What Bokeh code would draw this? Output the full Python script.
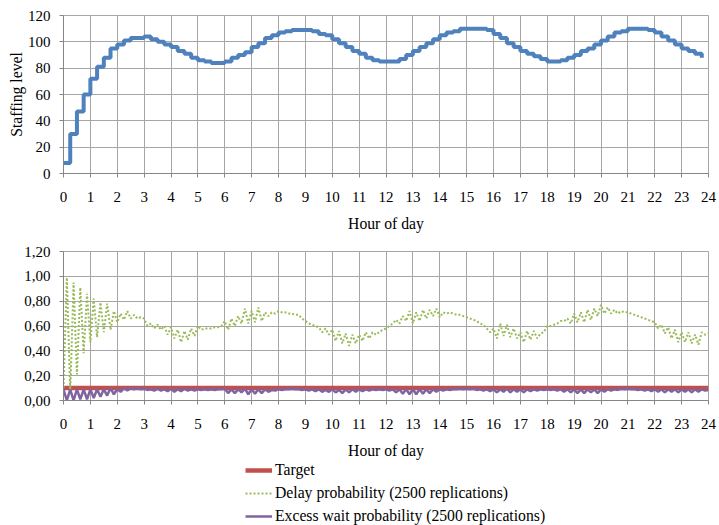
import numpy as np
from bokeh.plotting import figure
from bokeh.layouts import column
from bokeh.models import (FixedTicker, CustomJSTickFormatter, Legend, LegendItem, Range1d)
from bokeh.embed import file_html
from bokeh.resources import INLINE

# ---------------- data ----------------
hour_ticks = list(range(0, 25))
staff_ticks = [0, 20, 40, 60, 80, 100, 120]
prob_ticks = [0.0, 0.2, 0.4, 0.6, 0.8, 1.0, 1.2]

# staffing level per 15-minute interval (start times 0.00 ... 23.75 h)
staffing = [
    8, 30, 47, 60, 72, 81, 88, 95,
    98, 101, 103, 103, 104, 102, 100, 98,
    96, 93, 91, 88, 86, 85, 84, 84,
    85, 88, 90, 92, 96, 99, 103, 105,
    107, 108, 109, 109, 109, 108, 106, 105,
    102, 99, 96, 93, 91, 88, 86, 85,
    85, 85, 87, 90, 93, 96, 99, 102,
    105, 107, 108, 110, 110, 110, 110, 109,
    106, 103, 99, 96, 93, 91, 89, 87,
    85, 85, 86, 88, 90, 93, 95, 98,
    101, 104, 107, 108, 110, 110, 110, 109,
    107, 104, 101, 98, 95, 93, 91, 88,
]

# probabilities sampled every 7.5 minutes (0.000 ... 24.000 h)
delay_prob = [
    0.10, 0.99, 0.06, 0.95, 0.21, 0.91, 0.38, 0.86,
    0.47, 0.82, 0.51, 0.79, 0.55, 0.78, 0.57, 0.72,
    0.63, 0.70, 0.65, 0.72, 0.66, 0.69, 0.66, 0.67,
    0.66, 0.60, 0.62, 0.58, 0.61, 0.57, 0.60, 0.53,
    0.59, 0.50, 0.57, 0.47, 0.56, 0.49, 0.58, 0.52,
    0.60, 0.57, 0.58, 0.58, 0.58, 0.59, 0.59, 0.60,
    0.64, 0.57, 0.66, 0.60, 0.68, 0.62, 0.74, 0.62,
    0.72, 0.63, 0.75, 0.64, 0.71, 0.68, 0.71, 0.70,
    0.72, 0.71, 0.71, 0.70, 0.70, 0.69, 0.69, 0.66,
    0.64, 0.62, 0.61, 0.60, 0.59, 0.55, 0.58, 0.53,
    0.57, 0.48, 0.56, 0.46, 0.54, 0.44, 0.53, 0.46,
    0.53, 0.48, 0.55, 0.50, 0.55, 0.53, 0.55, 0.57,
    0.58, 0.60, 0.62, 0.65, 0.62, 0.68, 0.64, 0.72,
    0.62, 0.71, 0.64, 0.73, 0.66, 0.73, 0.68, 0.74,
    0.67, 0.71, 0.70, 0.71, 0.70, 0.69, 0.69, 0.68,
    0.67, 0.66, 0.65, 0.64, 0.62, 0.61, 0.58, 0.55,
    0.58, 0.50, 0.62, 0.52, 0.61, 0.51, 0.58, 0.50,
    0.55, 0.47, 0.56, 0.49, 0.56, 0.50, 0.54, 0.55,
    0.60, 0.60, 0.61, 0.62, 0.64, 0.64, 0.66, 0.62,
    0.70, 0.63, 0.71, 0.63, 0.73, 0.65, 0.74, 0.68,
    0.77, 0.70, 0.75, 0.70, 0.73, 0.70, 0.72, 0.71,
    0.71, 0.70, 0.69, 0.68, 0.67, 0.66, 0.65, 0.64,
    0.63, 0.58, 0.61, 0.54, 0.59, 0.50, 0.57, 0.47,
    0.55, 0.47, 0.55, 0.46, 0.53, 0.45, 0.55, 0.53,
    0.54,
]

excess_prob = [
    0.09, 0.00, 0.09, 0.00, 0.09, 0.01, 0.09, 0.01,
    0.09, 0.02, 0.09, 0.03, 0.09, 0.04, 0.10, 0.05,
    0.09, 0.07, 0.10, 0.08, 0.10, 0.09, 0.10, 0.09,
    0.095, 0.085, 0.09, 0.08, 0.095, 0.08, 0.09, 0.075,
    0.095, 0.07, 0.09, 0.075, 0.095, 0.08, 0.09, 0.08,
    0.09, 0.085, 0.09, 0.085, 0.09, 0.085, 0.09, 0.09,
    0.095, 0.06, 0.09, 0.06, 0.09, 0.065, 0.095, 0.05,
    0.09, 0.055, 0.09, 0.06, 0.09, 0.07, 0.085, 0.08,
    0.09, 0.085, 0.09, 0.09, 0.095, 0.09, 0.09, 0.085,
    0.09, 0.08, 0.09, 0.075, 0.09, 0.07, 0.085, 0.07,
    0.09, 0.065, 0.085, 0.06, 0.09, 0.065, 0.09, 0.07,
    0.09, 0.075, 0.09, 0.08, 0.09, 0.085, 0.09, 0.085,
    0.09, 0.08, 0.09, 0.065, 0.09, 0.055, 0.09, 0.05,
    0.09, 0.05, 0.09, 0.055, 0.09, 0.06, 0.09, 0.07,
    0.09, 0.08, 0.09, 0.085, 0.09, 0.09, 0.095, 0.09,
    0.095, 0.09, 0.095, 0.085, 0.09, 0.08, 0.09, 0.075,
    0.09, 0.065, 0.09, 0.07, 0.095, 0.065, 0.09, 0.07,
    0.09, 0.065, 0.09, 0.075, 0.09, 0.08, 0.09, 0.085,
    0.09, 0.085, 0.09, 0.08, 0.09, 0.07, 0.09, 0.065,
    0.09, 0.06, 0.09, 0.06, 0.09, 0.065, 0.09, 0.06,
    0.09, 0.07, 0.09, 0.08, 0.09, 0.085, 0.095, 0.09,
    0.095, 0.09, 0.09, 0.085, 0.09, 0.08, 0.09, 0.075,
    0.09, 0.07, 0.09, 0.065, 0.09, 0.07, 0.09, 0.065,
    0.09, 0.07, 0.09, 0.065, 0.09, 0.07, 0.09, 0.08,
    0.085,
]

target_level = 0.10

series_labels = ["Target",
                 "Delay probability (2500 replications)",
                 "Excess wait probability (2500 replications)"]

staff_times = np.arange(len(staffing)) * 0.25
prob_times = np.arange(len(delay_prob)) * 0.125
target_values = [target_level] * len(hour_ticks)

# ---------------- style ----------------
FONT = "Liberation Serif"
GRID = "#a6a6a6"
AXIS = "#868686"
TICK_FS = "15px"
TITLE_FS = "15.7px"

RED = dict(line_color="#C0504D", line_width=4.5)
GREEN = dict(line_color="#9BBB59", line_width=2, line_dash="2 2")
PURPLE = dict(line_color="#8064A2", line_width=2.5)


def style(p):
    p.xaxis.ticker = FixedTicker(ticks=hour_ticks)
    p.xgrid.ticker = FixedTicker(ticks=hour_ticks)
    for ax in (p.xaxis[0], p.yaxis[0]):
        ax.axis_line_color = AXIS
        ax.major_tick_line_color = AXIS
        ax.major_tick_out = 4
        ax.major_tick_in = 0
        ax.minor_tick_line_color = None
        ax.major_label_text_font = FONT
        ax.major_label_text_font_size = TICK_FS
        ax.major_label_text_color = "black"
        ax.axis_label_text_font = FONT
        ax.axis_label_text_font_size = TITLE_FS
        ax.axis_label_text_font_style = "normal"
        ax.axis_label_text_color = "black"
    p.xaxis.major_label_standoff = 14
    p.xaxis.axis_label_standoff = 10
    p.yaxis.major_label_standoff = 9
    p.yaxis.axis_label_standoff = 0
    for g in (p.xgrid[0], p.ygrid[0]):
        g.grid_line_color = GRID
        g.grid_line_width = 1
    p.outline_line_color = GRID
    p.background_fill_color = "white"
    p.border_fill_color = "white"


# ---------------- top chart ----------------
top = figure(width=719, height=234, output_backend="svg", toolbar_location=None,
             x_range=Range1d(0, 24), y_range=Range1d(0, 120),
             min_border_left=63, min_border_right=11, min_border_top=15,
             min_border_bottom=61)
style(top)
top.yaxis.ticker = FixedTicker(ticks=staff_ticks)
top.ygrid.ticker = FixedTicker(ticks=staff_ticks)
top.xaxis.axis_label = "Hour of day"
top.yaxis.axis_label = "Staffing level"
top.step(x=staff_times, y=staffing, mode="after", line_color="#4F81BD",
         line_width=4)

# ---------------- bottom chart ----------------
bot = figure(width=719, height=227, output_backend="svg", toolbar_location=None,
             x_range=Range1d(0, 24), y_range=Range1d(0, 1.2),
             min_border_left=63, min_border_right=11, min_border_top=17,
             min_border_bottom=60)
style(bot)
bot.yaxis.ticker = FixedTicker(ticks=prob_ticks)
bot.ygrid.ticker = FixedTicker(ticks=prob_ticks)
bot.yaxis.formatter = CustomJSTickFormatter(
    code="return tick.toFixed(2).replace('.', ',');")
bot.xaxis.axis_label = "Hour of day"

bot.line(x=hour_ticks, y=target_values, **RED)
bot.line(x=prob_times, y=delay_prob, **GREEN)
bot.line(x=prob_times, y=excess_prob, **PURPLE)

# ---------------- legend strip (below the bottom chart) ----------------
# same series, drawn in a view window that shows none of them; only the
# legend entries are visible
leg = figure(width=719, height=64, output_backend="svg", toolbar_location=None,
             x_range=Range1d(0, 24), y_range=Range1d(5, 6),
             x_axis_location=None, y_axis_location=None,
             min_border=0, min_border_left=63, min_border_right=11)
leg.grid.visible = False
leg.outline_line_color = None
lr1 = leg.line(x=hour_ticks, y=target_values, **RED)
lr2 = leg.line(x=prob_times, y=delay_prob, **GREEN)
lr3 = leg.line(x=prob_times, y=excess_prob, **PURPLE)

legend = Legend(items=[
    LegendItem(label=series_labels[0], renderers=[lr1]),
    LegendItem(label=series_labels[1], renderers=[lr2]),
    LegendItem(label=series_labels[2], renderers=[lr3]),
], location=(182, 0), orientation="vertical")
legend.border_line_color = None
legend.background_fill_alpha = 0
legend.padding = 0
legend.margin = 0
legend.spacing = 5
legend.glyph_width = 27
legend.glyph_height = 18
legend.label_height = 18
legend.label_standoff = 3
legend.label_text_font = FONT
legend.label_text_font_size = TITLE_FS
legend.label_text_color = "black"
leg.add_layout(legend, "center")

layout = column(top, bot, leg, spacing=0)

with open("out.html", "w") as f:
    f.write(file_html(layout, INLINE))
